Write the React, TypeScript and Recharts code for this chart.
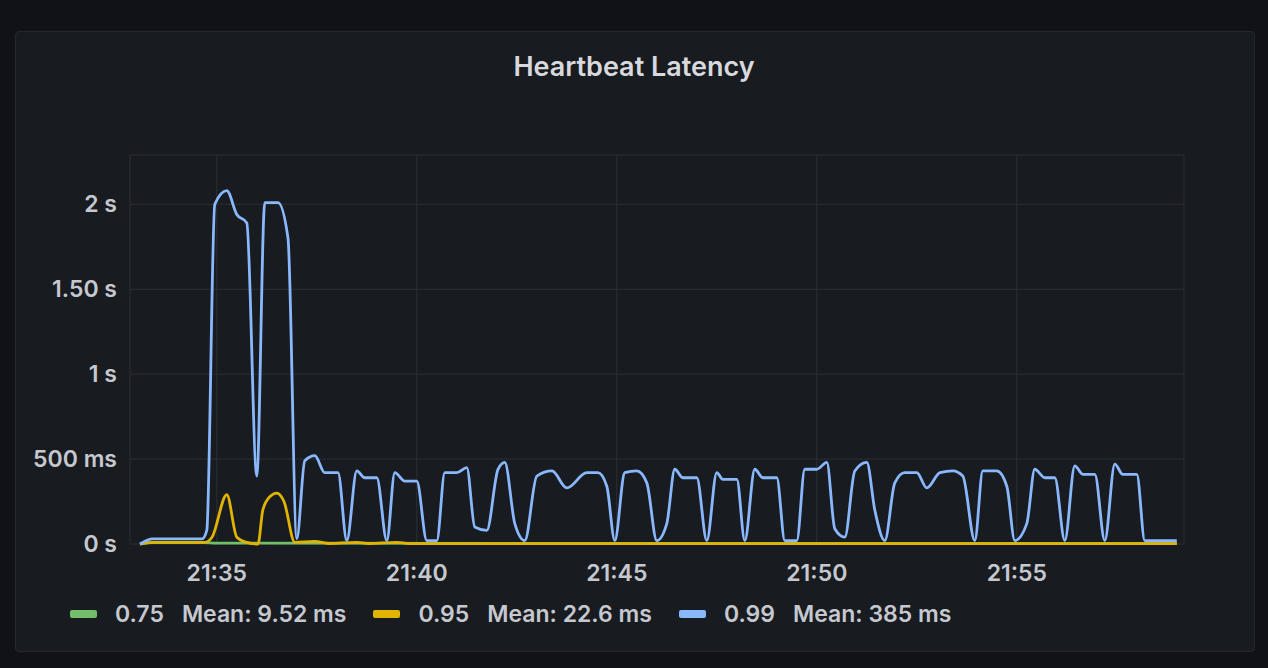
import { LineChart, Line, XAxis, YAxis, CartesianGrid } from 'recharts'

// minutes past 21:00
const p99Time = [
  33.08, 33.4, 34.63, 34.75, 34.95, 35.25, 35.5, 35.75, 36.0, 36.2, 36.53, 36.78, 37.0,
  37.2, 37.45, 37.7, 38.03, 38.25, 38.5, 38.7, 39.0, 39.25, 39.45, 39.7, 40.0, 40.25,
  40.5, 40.7, 41.0, 41.25, 41.45, 41.75, 42.03, 42.2, 42.45, 42.7, 43.0, 43.38, 43.75,
  44.25, 44.53, 44.75, 44.95, 45.2, 45.5, 45.75, 46.0, 46.25, 46.45, 46.65, 47.0, 47.25,
  47.5, 47.65, 48.0, 48.2, 48.45, 48.65, 49.0, 49.2, 49.5, 49.7, 50.0, 50.25, 50.45,
  50.7, 50.95, 51.25, 51.45, 51.7, 51.95, 52.2, 52.5, 52.75, 53.08, 53.4, 53.65, 53.95,
  54.15, 54.5, 54.75, 54.95, 55.25, 55.45, 55.7, 55.95, 56.2, 56.45, 56.65, 56.95, 57.2,
  57.45, 57.65, 58.0, 58.2, 59.0,
]
// seconds
const p99Value = [
  0.0, 0.03, 0.03, 0.08, 2.0, 2.08, 1.94, 1.89, 0.4, 2.01, 2.01, 1.8, 0.03,
  0.49, 0.52, 0.42, 0.42, 0.02, 0.43, 0.39, 0.39, 0.02, 0.42, 0.37, 0.37, 0.02,
  0.02, 0.42, 0.42, 0.45, 0.1, 0.08, 0.44, 0.48, 0.12, 0.02, 0.4, 0.43, 0.33,
  0.42, 0.42, 0.34, 0.02, 0.42, 0.43, 0.36, 0.02, 0.12, 0.44, 0.39, 0.39, 0.02,
  0.42, 0.38, 0.38, 0.02, 0.44, 0.39, 0.39, 0.02, 0.02, 0.44, 0.44, 0.48, 0.09,
  0.04, 0.43, 0.48, 0.2, 0.02, 0.36, 0.42, 0.42, 0.33, 0.42, 0.43, 0.4, 0.02,
  0.43, 0.43, 0.34, 0.02, 0.12, 0.44, 0.39, 0.39, 0.02, 0.46, 0.41, 0.41, 0.02,
  0.47, 0.41, 0.41, 0.02, 0.02,
]

const p95Time = [
  33.08, 33.4, 34.7, 34.88, 35.25, 35.5, 35.75, 36.03, 36.15, 36.33, 36.5, 36.68, 36.95,
  37.45, 37.8, 38.5, 38.8, 39.5, 39.8, 59.0,
]
const p95Value = [
  0.0, 0.01, 0.01, 0.04, 0.29, 0.04, 0.01, 0.0, 0.2, 0.28, 0.3, 0.25, 0.01,
  0.015, 0.003, 0.01, 0.003, 0.01, 0.002, 0.002,
]

const p75Time = [33.08, 33.4, 34.7, 35.0, 59.0]
const p75Value = [0.0, 0.008, 0.008, 0.005, 0.003]

const seriesNames = ['0.75', '0.95', '0.99']
const seriesMeans = ['Mean: 9.52 ms', 'Mean: 22.6 ms', 'Mean: 385 ms']
const seriesColors = ['#73bf69', '#e0b400', '#8ab8ff']

const xTicks = [35, 40, 45, 50, 55]
const xTickLabels = ['21:35', '21:40', '21:45', '21:50', '21:55']
const yTicks = [0, 0.5, 1, 1.5, 2]
const yTickLabels = ['0 s', '500 ms', '1 s', '1.50 s', '2 s']

const toPoints = (times: number[], values: number[]) =>
  times.map((t, i) => ({ t, v: values[i] }))

const FONT = 'Inter, Roboto, "Noto Sans", sans-serif'
const tickStyle = { fill: '#c6c8d0', fontSize: 23, fontFamily: FONT, fontWeight: 600 }

export default function App() {
  const series = [
    toPoints(p75Time, p75Value),
    toPoints(p95Time, p95Value),
    toPoints(p99Time, p99Value),
  ]

  return (
    <div style={{ position: 'absolute', left: 0, top: 0, width: 1268, height: 668, background: '#111217', overflow: 'hidden' }}>
      <div
        style={{
          position: 'absolute',
          left: 15,
          top: 31,
          width: 1240,
          height: 621,
          boxSizing: 'border-box',
          background: '#181b1f',
          border: '1px solid #24272c',
          borderRadius: 4,
        }}
      />
      <div
        style={{
          position: 'absolute',
          left: 0,
          top: 50,
          width: 1268,
          textAlign: 'center',
          color: '#d8d9de',
          fontFamily: FONT,
          fontSize: 27,
          fontWeight: 600,
        }}
      >
        Heartbeat Latency
      </div>
      <div style={{ position: 'absolute', left: 0, top: 0 }}>
        <LineChart width={1268} height={668} margin={{ top: 155, right: 84, bottom: 84, left: 0 }}>
          <CartesianGrid stroke="#2c2f35" strokeWidth={1} />
          <XAxis
            dataKey="t"
            type="number"
            domain={[32.83, 59.18]}
            allowDataOverflow
            ticks={xTicks}
            tickFormatter={(v: number) => xTickLabels[xTicks.indexOf(v)] ?? ''}
            tick={tickStyle}
            axisLine={false}
            tickLine={false}
            tickMargin={15}
            height={40}
          />
          <YAxis
            type="number"
            domain={[0, 2.29]}
            ticks={yTicks}
            tickFormatter={(v: number) => yTickLabels[yTicks.indexOf(v)] ?? ''}
            tick={tickStyle}
            axisLine={false}
            tickLine={false}
            tickMargin={7}
            width={130}
          />
          {series.map((pts, i) => (
            <Line
              key={seriesNames[i]}
              data={pts}
              dataKey="v"
              type="monotone"
              stroke={seriesColors[i]}
              strokeWidth={2.8}
              dot={false}
              isAnimationActive={false}
            />
          ))}
        </LineChart>
      </div>
      <div
        style={{
          position: 'absolute',
          left: 70,
          top: 600,
          display: 'flex',
          alignItems: 'center',
          fontFamily: FONT,
          fontSize: 23,
          fontWeight: 600,
          color: '#c6c8d0',
        }}
      >
        {seriesNames.map((name, i) => (
          <div key={name} style={{ display: 'flex', alignItems: 'center', marginRight: 27 }}>
            <span style={{ display: 'inline-block', width: 27, height: 8, borderRadius: 2, background: seriesColors[i], marginRight: 18 }} />
            <span style={{ marginRight: 18 }}>{name}</span>
            <span>{seriesMeans[i]}</span>
          </div>
        ))}
      </div>
    </div>
  )
}
